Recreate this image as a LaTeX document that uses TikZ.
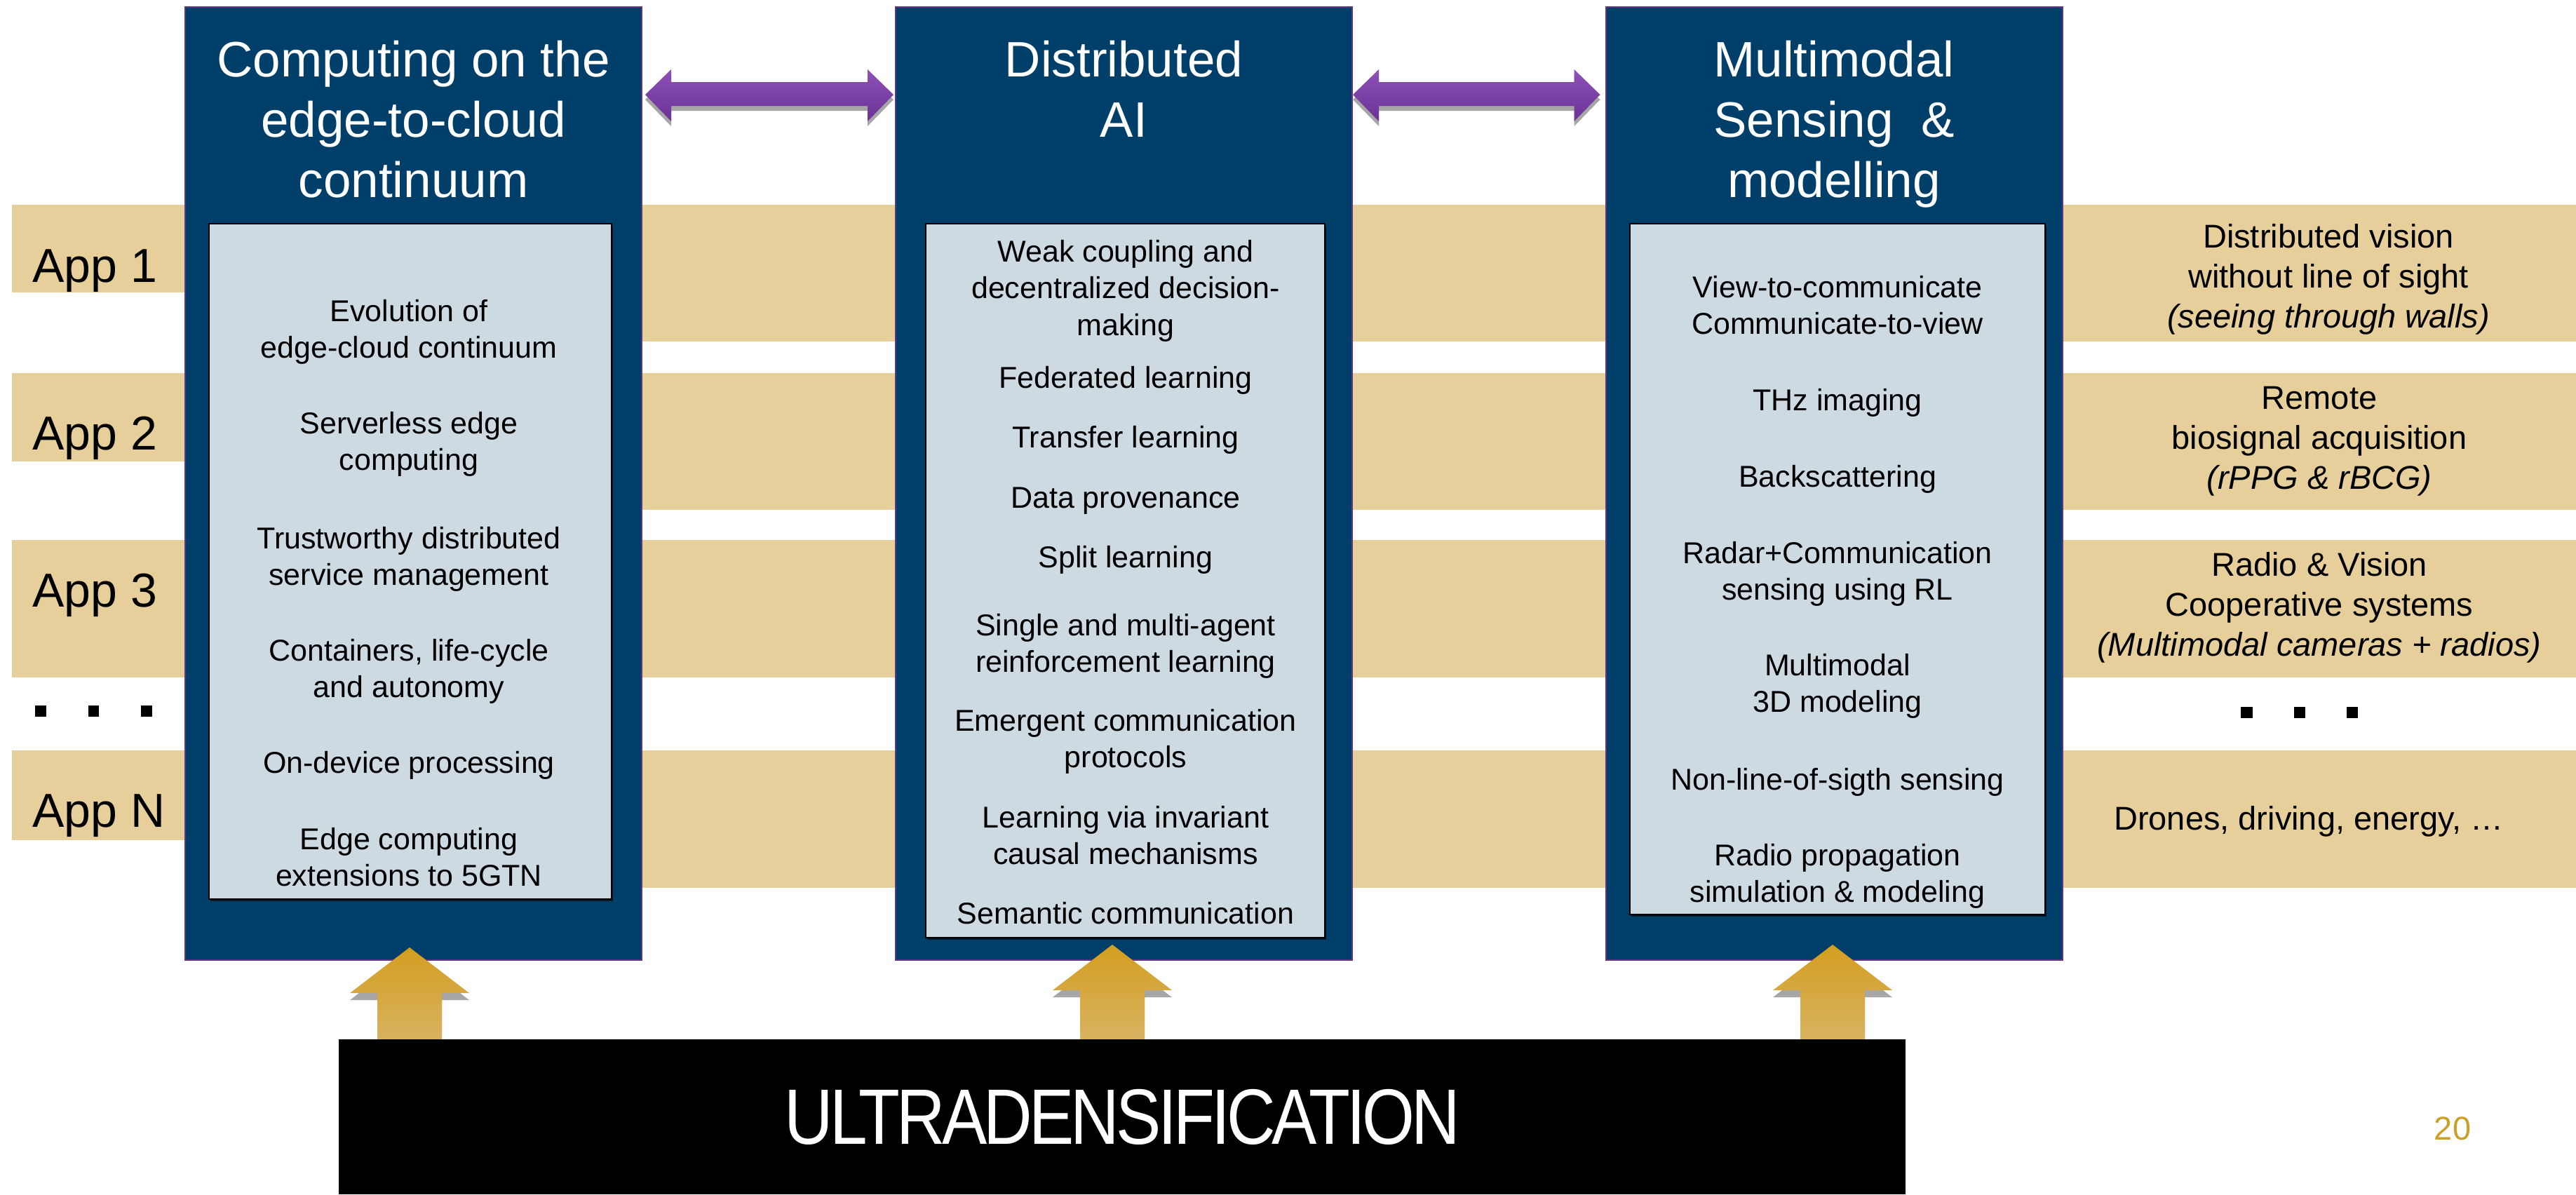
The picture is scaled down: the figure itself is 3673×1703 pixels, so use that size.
\documentclass[tikz,border=0pt]{standalone}
\usepackage{fontspec}
\setmainfont{Liberation Sans}
\usetikzlibrary{calc,shadows}

\definecolor{colblue}{RGB}{0,63,106}
\definecolor{coledge}{RGB}{96,52,130}
\definecolor{innerfill}{RGB}{205,218,226}
\definecolor{bandtan}{RGB}{230,207,155}
\definecolor{purplelight}{RGB}{140,80,182}
\definecolor{purpledark}{RGB}{108,50,150}
\definecolor{goldtop}{RGB}{211,158,32}
\definecolor{goldbottom}{RGB}{216,178,96}
\definecolor{pagegold}{RGB}{204,160,40}

\newcommand{\pxfont}[2]{\fontsize{#1}{#2}\selectfont}

\begin{document}
\begin{tikzpicture}[x=1pt,y=-1pt,
  colbox/.style={draw=coledge, line width=2pt, fill=colblue,
    minimum width=651pt, minimum height=1359pt, inner sep=0pt},
  listbox/.style={draw=black, line width=2pt, fill=innerfill, inner sep=0pt,
    drop shadow={shadow xshift=2pt, shadow yshift=-3pt, opacity=0.6, fill=black}},
  % multi-line nodes are placed by the baseline of their last line
  coltitle/.style={text=white, font=\pxfont{71}{86}, align=center, anchor=base, inner sep=0pt},
  listitem/.style={font=\pxfont{43}{52.5}, align=center, anchor=base, inner sep=0pt},
  applabel/.style={font=\pxfont{68}{80}, anchor=base west, inner sep=0pt},
  usecase/.style={font=\pxfont{47}{57}, align=center, anchor=base, inner sep=0pt},
  bandfill/.style={fill=bandtan},
  dotsq/.style={fill=black},
  linkarrow/.style={top color=purplelight, bottom color=purpledark,
    drop shadow={shadow xshift=0pt, shadow yshift=-7pt, opacity=0.35, fill=black}},
  feedarrow/.style={top color=goldtop, bottom color=goldbottom,
    drop shadow={shadow xshift=0pt, shadow yshift=-10pt, opacity=0.35, fill=black}},
]
\useasboundingbox (0,0) rectangle (3673,1703);

% application bands
\path[bandfill] (17,292) rectangle (264,417);
\path[bandfill] (17,532) rectangle (264,658);
\path[bandfill] (17,770) rectangle (264,966);
\path[bandfill] (17,1070) rectangle (264,1198);
\path[bandfill] (264,292) rectangle (3673,487);
\path[bandfill] (264,532) rectangle (3673,727);
\path[bandfill] (264,770) rectangle (3673,966);
\path[bandfill] (264,1070) rectangle (3673,1266);

% application labels
\node[applabel] (app1) at (46,402) {App 1};
\node[applabel] (app2) at (46,641) {App 2};
\node[applabel] (app3) at (46,865) {App 3};
\node[applabel] (appn) at (46,1179) {App N};
\path[dotsq] (50,1006) rectangle (66,1022);
\path[dotsq] (126,1006) rectangle (141,1022);
\path[dotsq] (201,1006) rectangle (217,1022);

% three research columns
\node[colbox] (c1) at (589.5,689.5) {};
\node[colbox] (c2) at (1602.5,689.5) {};
\node[colbox] (c3) at (2615,689.5) {};

\node[coltitle] (t1) at (589.5,281) {Computing on the\\edge-to-cloud\\continuum};
\node[coltitle] (t2) at (1602.5,195) {Distributed\\AI};
\node[coltitle] (t3) at (2615,281) {Multimodal\\Sensing\ \ \&\\modelling};

\node[listbox, minimum width=574pt, minimum height=963pt] (i1) at (585,800.5) {};
\node[listbox, minimum width=569pt, minimum height=1018pt] (i2) at (1604.5,828) {};
\node[listbox, minimum width=592pt, minimum height=985pt] (i3) at (2620,811.5) {};

% column 1 topics
\node[listitem] (a1) at (583,510.5) {Evolution of\\edge-cloud continuum};
\node[listitem] (a2) at (583,670.5) {Serverless edge\\computing};
\node[listitem] (a3) at (583,834.5) {Trustworthy distributed\\service management};
\node[listitem] (a4) at (583,994.5) {Containers, life-cycle\\and autonomy};
\node[listitem] (a5) at (583,1102) {On-device processing};
\node[listitem] (a6) at (583,1263.5) {Edge computing\\extensions to 5GTN};

% column 2 topics
\node[listitem] (b1) at (1605,478) {Weak coupling and\\decentralized decision-\\making};
\node[listitem] (b2) at (1605,553) {Federated learning};
\node[listitem] (b3) at (1605,638) {Transfer learning};
\node[listitem] (b4) at (1605,724) {Data provenance};
\node[listitem] (b5) at (1605,809) {Split learning};
\node[listitem] (b6) at (1605,958.5) {Single and multi-agent\\reinforcement learning};
\node[listitem] (b7) at (1605,1094.5) {Emergent communication\\protocols};
\node[listitem] (b8) at (1605,1232.5) {Learning via invariant\\causal mechanisms};
\node[listitem] (b9) at (1605,1317) {Semantic communication};

% column 3 topics
\node[listitem] (d1) at (2620,476.5) {View-to-communicate\\Communicate-to-view};
\node[listitem] (d2) at (2620,585) {THz imaging};
\node[listitem] (d3) at (2620,694) {Backscattering};
\node[listitem] (d4) at (2620,855.5) {Radar+Communication\\sensing using RL};
\node[listitem] (d5) at (2620,1015.5) {Multimodal\\3D modeling};
\node[listitem] (d6) at (2620,1126) {Non-line-of-sigth sensing};
\node[listitem] (d7) at (2620,1286.5) {Radio propagation\\simulation \& modeling};

% use cases
\node[usecase] (u1) at (3320,467) {Distributed vision\\without line of sight\\\textit{(seeing through walls)}};
\node[usecase] (u2) at (3307,697) {Remote\\biosignal acquisition\\\textit{(rPPG \& rBCG)}};
\node[usecase] (u3) at (3307,935) {Radio \& Vision\\Cooperative systems\\\textit{(Multimodal cameras + radios)}};
\node[usecase] (u4) at (3292,1183) {Drones, driving, energy, …};
\path[dotsq] (3195,1008) rectangle (3212,1024);
\path[dotsq] (3271,1008) rectangle (3287,1024);
\path[dotsq] (3346,1008) rectangle (3362,1024);

% double arrows between the columns
\coordinate (l1) at ($(c1.north east)+(4,126)$);
\coordinate (r1) at ($(c2.north west)+(-2,126)$);
\coordinate (l2) at ($(c2.north east)+(0,126)$);
\coordinate (r2) at ($(c3.north west)+(-7,126)$);
\foreach \l/\r in {l1/r1, l2/r2} {
  \path[linkarrow] (\l) -- ($(\l)+(37,-36)$) -- ($(\l)+(37,-18)$) -- ($(\r)+(-37,-18)$)
    -- ($(\r)+(-37,-36)$) -- (\r) -- ($(\r)+(-37,38)$) -- ($(\r)+(-37,16)$)
    -- ($(\l)+(37,16)$) -- ($(\l)+(37,38)$) -- cycle;
}

% foundation block, tightly tracked caption
\node[fill=black, text=white, minimum width=2234pt, minimum height=221pt, inner sep=0pt]
  (ud) at (1600,1592.5)
  {\scalebox{0.86}[1]{\pxfont{112}{112}\addfontfeatures{LetterSpace=-5}ULTRADENSIFICATION}};

% upward arrows into the columns
\coordinate (f1) at ($(c1.south)+(-5.5,-19)$);
\coordinate (f2) at ($(c2.south)+(-16.5,-23)$);
\coordinate (f3) at ($(c3.south)+(-2,-23)$);
\foreach \t in {f1,f2,f3} {
  \coordinate (\t b) at (\t |- ud.north);
  \path[feedarrow] ($(\t b)+(-46,0)$) -- ($(\t)+(-46,65)$) -- ($(\t)+(-85,65)$) -- (\t)
    -- ($(\t)+(85,65)$) -- ($(\t)+(46,65)$) -- ($(\t b)+(46,0)$) -- cycle;
}

% page number
\node[anchor=base, text=pagegold, font=\pxfont{47}{56}, inner sep=0pt] (pg) at (3497,1625) {20};
\end{tikzpicture}
\end{document}
